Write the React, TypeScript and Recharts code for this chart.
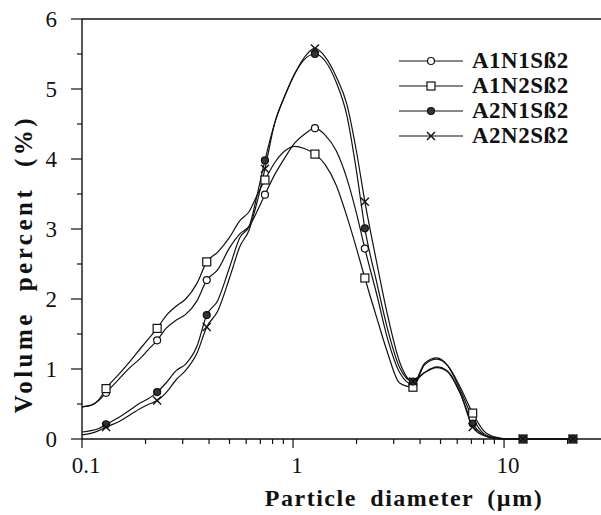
import React from "react";
import { LineChart, Line, XAxis, YAxis, ReferenceLine, Legend } from "recharts";

// particle diameter (um), log spaced like the analyser bins
const DIAMETER = [
  0.1, 0.11, 0.12, 0.13, 0.15, 0.17, 0.19, 0.205, 0.227, 0.25, 0.28, 0.31, 0.35, 0.39, 0.44,
  0.5, 0.56, 0.62, 0.68, 0.736, 0.82, 0.92, 1.02, 1.13, 1.27, 1.42, 1.6, 1.8, 2.0, 2.19,
  2.5, 2.8, 3.2, 3.7, 4.2, 4.8, 5.4, 6.2, 7.1, 8.0, 9.0, 10.5, 12.3, 16, 21.2,
];

const A1N1 = [
  0.46, 0.48, 0.55, 0.66, 0.86, 1.03, 1.16, 1.27, 1.41, 1.58, 1.7, 1.78, 1.97, 2.27, 2.42,
  2.73, 2.93, 3.04, 3.27, 3.49, 3.78, 4.03, 4.23, 4.35, 4.44, 4.34, 4.12, 3.72, 3.22, 2.72,
  2.05, 1.44, 0.95, 0.78, 1.08, 1.16, 1.05, 0.7, 0.3, 0.08, 0.02, 0, 0, 0, 0,
];

const A1N2 = [
  0.46, 0.48, 0.56, 0.72, 0.93, 1.12, 1.3, 1.42, 1.58, 1.76, 1.9, 2.0, 2.22, 2.53, 2.67,
  2.88, 3.12, 3.25, 3.5, 3.7, 3.95, 4.12, 4.18, 4.15, 4.07, 3.92, 3.63, 3.18, 2.72, 2.3,
  1.72, 1.24, 0.8, 0.74, 1.06, 1.14, 1.05, 0.74, 0.37, 0.12, 0.03, 0, 0, 0, 0,
];

const A2N1 = [
  0.1, 0.12, 0.15, 0.21, 0.31, 0.42, 0.52, 0.57, 0.67, 0.8, 0.98, 1.07, 1.32, 1.77, 1.98,
  2.45, 2.88, 3.04, 3.52, 3.98, 4.52, 4.92, 5.22, 5.42, 5.5, 5.4, 5.1, 4.62, 3.82, 3.01,
  2.22, 1.58, 1.02, 0.82, 0.95, 1.02, 0.96, 0.65, 0.22, 0.06, 0.01, 0, 0, 0, 0,
];

const A2N2 = [
  0.06, 0.08, 0.12, 0.17, 0.25, 0.35, 0.44, 0.49, 0.55, 0.66, 0.85, 0.98, 1.22, 1.6, 1.83,
  2.3, 2.75, 2.99, 3.42, 3.86, 4.52, 4.92, 5.22, 5.45, 5.58, 5.46, 5.18, 4.78, 4.1, 3.39,
  2.5, 1.78, 1.1, 0.82, 0.95, 1.03, 0.97, 0.66, 0.17, 0.05, 0.01, 0, 0, 0, 0,
];

// diameters where the symbols are drawn
const MARKER_AT = [0.13, 0.227, 0.39, 0.736, 1.27, 2.19, 3.7, 7.1, 12.3, 21.2];

const X_TICKS = [
  0.1, 0.2, 0.3, 0.4, 0.5, 0.6, 0.7, 0.8, 0.9, 1, 2, 3, 4, 5, 6, 7, 8, 9, 10, 20,
];
const X_LABELS = [0.1, 1, 10];
const Y_TICKS = [0, 0.5, 1, 1.5, 2, 2.5, 3, 3.5, 4, 4.5, 5, 5.5, 6];

const SERIES = [
  { key: "a1n1", name: "A1N1Sß2", marker: "circle" },
  { key: "a1n2", name: "A1N2Sß2", marker: "square" },
  { key: "a2n1", name: "A2N1Sß2", marker: "dot" },
  { key: "a2n2", name: "A2N2Sß2", marker: "cross" },
];

const INK = "#111";
const FONT = '"Liberation Serif", "Times New Roman", serif';

const data = DIAMETER.map((d, i) => ({
  d,
  a1n1: A1N1[i],
  a1n2: A1N2[i],
  a2n1: A2N1[i],
  a2n2: A2N2[i],
}));

function Marker({ kind, cx, cy }: { kind: string; cx: number; cy: number }) {
  if (kind === "circle")
    return <circle cx={cx} cy={cy} r={3.5} fill="#fff" stroke={INK} strokeWidth={1.2} />;
  if (kind === "square")
    return <rect x={cx - 4} y={cy - 4} width={8} height={8} fill="#fff" stroke={INK} strokeWidth={1.2} />;
  if (kind === "dot")
    return <circle cx={cx} cy={cy} r={3.5} fill="#333" stroke={INK} strokeWidth={1.2} />;
  return (
    <g stroke={INK} strokeWidth={1.4}>
      <line x1={cx - 4} y1={cy - 4} x2={cx + 4} y2={cy + 4} />
      <line x1={cx - 4} y1={cy + 4} x2={cx + 4} y2={cy - 4} />
    </g>
  );
}

const makeDot = (kind: string) => (props: any) => {
  const { cx, cy, payload, index } = props;
  if (!MARKER_AT.includes(payload.d)) return <g key={`e-${kind}-${index}`} />;
  return (
    <g key={`m-${kind}-${index}`}>
      <Marker kind={kind} cx={cx} cy={cy} />
    </g>
  );
};

const XTick = (props: any) => {
  const { x, y, payload } = props;
  const v = payload.value;
  const major = X_LABELS.includes(v);
  return (
    <g>
      <line x1={x} x2={x} y1={y} y2={y + (major ? 9 : 5)} stroke={INK} strokeWidth={1.2} />
      {major && (
        <text x={x + 4} y={y + 34} textAnchor="middle" fontFamily={FONT} fontSize={23} fill={INK}>
          {v}
        </text>
      )}
    </g>
  );
};

const YTick = (props: any) => {
  const { x, y, payload } = props;
  const v = payload.value;
  const major = Number.isInteger(v);
  return (
    <g>
      <line x1={x - (major ? 11 : 5)} x2={x} y1={y} y2={y} stroke={INK} strokeWidth={1.2} />
      {major && (
        <text x={x - 25} y={y} dy="0.34em" textAnchor="end" fontFamily={FONT} fontSize={23} fill={INK}>
          {v}
        </text>
      )}
    </g>
  );
};

const renderLegend = () => (
  <div>
    {SERIES.map((s) => (
      <div key={s.key} style={{ display: "flex", alignItems: "center", height: 25 }}>
        <svg width={64} height={14}>
          <line x1={0} y1={7} x2={64} y2={7} stroke={INK} strokeWidth={1.2} />
          <Marker kind={s.marker} cx={32} cy={7} />
        </svg>
        <span
          style={{
            fontFamily: FONT,
            fontWeight: "bold",
            fontSize: 23,
            color: INK,
            marginLeft: 9,
            letterSpacing: 0.5,
          }}
        >
          {s.name}
        </span>
      </div>
    ))}
  </div>
);

export default function App() {
  return (
    <div style={{ position: "absolute", left: 0, top: 0, width: 601, height: 515, background: "#fff" }}>
      <LineChart width={601} height={515} data={data} margin={{ top: 19, right: 0, bottom: 36, left: 22 }}>
        <XAxis
          dataKey="d"
          type="number"
          scale="log"
          domain={[0.1, 28.8]}
          allowDataOverflow
          ticks={X_TICKS}
          interval={0}
          height={40}
          tickSize={0}
          tickMargin={0}
          tickLine={false}
          tick={<XTick />}
          axisLine={{ stroke: INK, strokeWidth: 1.4 }}
          label={() => (
            <text
              x={404}
              y={506}
              textAnchor="middle"
              fontFamily={FONT}
              fontWeight="bold"
              fontSize={24}
              letterSpacing={1.5}
              wordSpacing={6}
              fill={INK}
            >
              Particle diameter (µm)
            </text>
          )}
        />
        <YAxis
          type="number"
          domain={[0, 6]}
          ticks={Y_TICKS}
          interval={0}
          width={60}
          tickSize={0}
          tickMargin={0}
          tickLine={false}
          tick={<YTick />}
          axisLine={{ stroke: INK, strokeWidth: 1.4 }}
          label={() => (
            <text
              x={23}
              y={264}
              transform="rotate(-90 23 264)"
              textAnchor="middle"
              dominantBaseline="central"
              fontFamily={FONT}
              fontWeight="bold"
              fontSize={25}
              letterSpacing={3.5}
              wordSpacing={10}
              fill={INK}
            >
              Volume percent (%)
            </text>
          )}
        />
        <ReferenceLine y={6} stroke={INK} strokeWidth={1.4} />
        {SERIES.map((s) => (
          <Line
            key={s.key}
            dataKey={s.key}
            name={s.name}
            type="monotone"
            stroke={INK}
            strokeWidth={1.2}
            dot={makeDot(s.marker)}
            activeDot={false}
            isAnimationActive={false}
          />
        ))}
        <Legend
          layout="vertical"
          align="center"
          verticalAlign="middle"
          content={renderLegend}
          wrapperStyle={{ position: "absolute", left: 399, top: 48, width: 200 }}
        />
      </LineChart>
    </div>
  );
}
